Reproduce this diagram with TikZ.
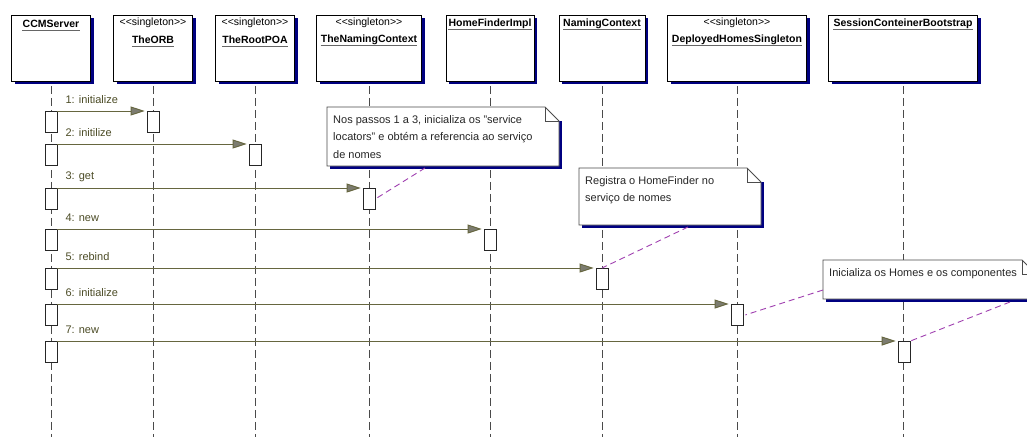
\documentclass[tikz,border=0pt]{standalone}
\usepackage{fontspec}
\setmainfont{Liberation Sans}
\usetikzlibrary{arrows.meta,shadows}

\definecolor{shadowblue}{HTML}{000080}
\definecolor{msgline}{HTML}{66663F}
\definecolor{msgtext}{HTML}{4C4C26}
\definecolor{tipfill}{HTML}{7C7C70}
\definecolor{linkcol}{HTML}{A040B0}
\definecolor{lifegray}{HTML}{4A4A4A}

% UML note with folded corner: x, y (top left), width, height
\newcommand{\umlnote}[4]{%
  \fill[noteshadow] (#1+3,#2+14) rectangle (#1+#3+3,#2+#4+3);
  \draw[notebody] (#1,#2) -- (#1+#3-14,#2) -- (#1+#3,#2+14)
    -- (#1+#3,#2+#4) -- (#1,#2+#4) -- cycle;
  \draw[notebody,fill=none] (#1+#3-14,#2) -- (#1+#3-14,#2+14) -- (#1+#3,#2+14);}

\tikzset{
  obj/.style={draw=black, fill=white, line width=0.8pt, minimum height=66pt,
    inner sep=0pt, anchor=north,
    drop shadow={shadow xshift=3pt, shadow yshift=-3pt, fill=shadowblue, opacity=1}},
  stereo/.style={font=\fontsize{10.5}{12}\selectfont, inner sep=0pt},
  ttl/.style={font=\bfseries\fontsize{10.5}{12}\selectfont, inner sep=0pt},
  uline/.style={draw=black!60, line width=0.8pt},
  lifeline/.style={draw=lifegray, line width=0.9pt, dash pattern=on 8pt off 4pt},
  act/.style={draw=black!85, fill=white, line width=0.8pt, minimum width=12pt,
    minimum height=21pt, inner sep=0pt, anchor=north},
  msg/.style={draw=msgline, line width=0.9pt, shorten >=2pt,
    -{Triangle[length=14pt,width=9pt,fill=tipfill]}},
  lbl/.style={font=\fontsize{11}{13}\selectfont, text=msgtext, inner sep=0pt, anchor=west},
  notebody/.style={fill=white, draw=black!70, line width=0.8pt},
  noteshadow/.style={fill=shadowblue},
  notetext/.style={font=\fontsize{11}{17.5}\selectfont, align=left, inner sep=0pt,
    anchor=north west, text=black!85},
  notelink/.style={draw=linkcol, line width=0.9pt, dash pattern=on 6pt off 4pt},
}

\newcommand{\sgl}{<\kern0pt<singleton>\kern0pt>}

\begin{document}
\begin{tikzpicture}[x=1pt,y=-1pt]
\useasboundingbox[fill=white] (0,0) rectangle (1027,436);

% object boxes
\node[obj, minimum width=79pt]  (ccm) at (51,15)  {};
\node[obj, minimum width=79pt]  (orb) at (153,15) {};
\node[obj, minimum width=79pt]  (poa) at (255,15) {};
\node[obj, minimum width=105pt] (tnc) at (369,15) {};
\node[obj, minimum width=88pt]  (hfi) at (490,15) {};
\node[obj, minimum width=86pt]  (nc)  at (602,15) {};
\node[obj, minimum width=139pt] (dhs) at (737,15) {};
\node[obj, minimum width=149pt] (scb) at (903,15) {};

% object names
\node[ttl]    (ccmT) at ([yshift=-9pt]ccm.north)  {CCMServer};
\node[stereo] (orbS) at ([yshift=-8pt]orb.north)  {\sgl};
\node[ttl]    (orbT) at ([yshift=-25pt]orb.north) {TheORB};
\node[stereo] (poaS) at ([yshift=-8pt]poa.north)  {\sgl};
\node[ttl]    (poaT) at ([yshift=-25pt]poa.north) {TheRootPOA};
\node[stereo] (tncS) at ([yshift=-8pt]tnc.north)  {\sgl};
\node[ttl]    (tncT) at ([yshift=-25pt]tnc.north) {TheNamingContext};
\node[ttl]    (hfiT) at ([yshift=-9pt]hfi.north)  {HomeFinderImpl};
\node[ttl]    (ncT)  at ([yshift=-9pt]nc.north)   {NamingContext};
\node[stereo] (dhsS) at ([yshift=-8pt]dhs.north)  {\sgl};
\node[ttl]    (dhsT) at ([yshift=-25pt]dhs.north) {DeployedHomesSingleton};
\node[ttl]    (scbT) at ([yshift=-9pt]scb.north)  {SessionConteinerBootstrap};

\foreach \t in {ccmT,orbT,poaT,tncT,hfiT,ncT,dhsT,scbT}
  \draw[uline] ([yshift=-3pt]\t.base west) -- ([yshift=-3pt]\t.base east);

% lifelines
\foreach \o in {ccm,orb,poa,tnc,hfi,nc,dhs,scb}
  \draw[lifeline] ([yshift=-4pt]\o.south) -- ++(0,352);

% activations of the caller
\node[act] (s1) at (51,111) {};
\node[act] (s2) at (51,144) {};
\node[act] (s3) at (51,188) {};
\node[act] (s4) at (51,229) {};
\node[act] (s5) at (51,268) {};
\node[act] (s6) at (51,304) {};
\node[act] (s7) at (51,341) {};

% activations of the callees
\node[act] (r1) at (153,111) {};
\node[act] (r2) at (255,144) {};
\node[act] (r3) at (369,188) {};
\node[act] (r4) at (490,229) {};
\node[act] (r5) at (602,268) {};
\node[act] (r6) at (737,304) {};
\node[act] (r7) at (904,341) {};

% messages
\draw[msg] (s1.north east) -- (r1.north west);
\draw[msg] (s2.north east) -- (r2.north west);
\draw[msg] (s3.north east) -- (r3.north west);
\draw[msg] (s4.north east) -- (r4.north west);
\draw[msg] (s5.north east) -- (r5.north west);
\draw[msg] (s6.north east) -- (r6.north west);
\draw[msg] (s7.north east) -- (r7.north west);

\node[lbl] (m1) at ([xshift=8pt,yshift=11.5pt]s1.north east) {1: initialize};
\node[lbl] (m2) at ([xshift=8pt,yshift=11.5pt]s2.north east) {2: initilize};
\node[lbl] (m3) at ([xshift=8pt,yshift=11.5pt]s3.north east) {3: get};
\node[lbl] (m4) at ([xshift=8pt,yshift=11.5pt]s4.north east) {4: new};
\node[lbl] (m5) at ([xshift=8pt,yshift=11.5pt]s5.north east) {5: rebind};
\node[lbl] (m6) at ([xshift=8pt,yshift=11.5pt]s6.north east) {6: initialize};
\node[lbl] (m7) at ([xshift=8pt,yshift=11.5pt]s7.north east) {7: new};

% notes
\umlnote{327}{107}{232}{59}
\node[notetext] (n1) at (333,115)
  {Nos passos 1 a 3, inicializa os "service\\locators" e obtém a referencia ao serviço\\de nomes};
\umlnote{579}{168}{182}{57}
\node[notetext] (n2) at (585,176) {Registra o HomeFinder no\\serviço de nomes};
\umlnote{823}{260}{213}{39}
\node[notetext] (n3) at (829,268) {Inicializa os Homes e os componentes};

% note links
\coordinate (n1a) at (425,168);
\coordinate (n2a) at (688,227);
\coordinate (n3a) at (823,290);
\coordinate (n3b) at (1010,302);
\draw[notelink] (n1a) -- (r3.east);
\draw[notelink] (n2a) -- (r5.north);
\draw[notelink] (n3a) -- ([xshift=2pt]r6.east);
\draw[notelink] (n3b) -- (r7.north east);
\end{tikzpicture}
\end{document}
